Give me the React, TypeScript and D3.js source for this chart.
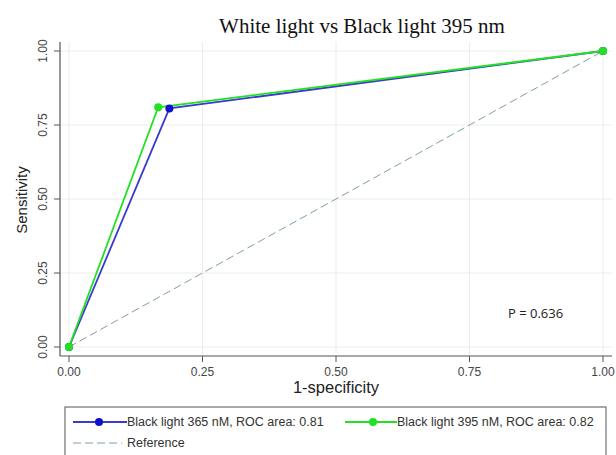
import React from "react";
import * as d3 from "d3";

const xTicks = [0, 0.25, 0.5, 0.75, 1];
const yTicks = [0, 0.25, 0.5, 0.75, 1];
const fpr365 = [0, 0.188, 1];
const tpr365 = [0, 0.806, 1];
const fpr395 = [0, 0.167, 1];
const tpr395 = [0, 0.81, 1];
const refX = [0, 1];
const refY = [0, 1];
const label365 = "Black light 365 nM, ROC area: 0.81";
const label395 = "Black light 395 nM, ROC area: 0.82";
const titleText = "White light vs Black light 395 nm";
const pText = "P = 0.636";

const BLUE = "#1010c8";
const BLUE_LINE = "#3a3ad0";
const GREEN = "#22e022";
const REF = "#7fa0a0";

export default function App() {
  const x = d3.scaleLinear().domain([0, 1]).range([69, 603]);
  const y = d3.scaleLinear().domain([0, 1]).range([347, 51]);
  const line = d3
    .line<[number, number]>()
    .x((d) => x(d[0]))
    .y((d) => y(d[1]));
  const s365 = fpr365.map((v, i) => [v, tpr365[i]] as [number, number]);
  const s395 = fpr395.map((v, i) => [v, tpr395[i]] as [number, number]);
  const sRef = refX.map((v, i) => [v, refY[i]] as [number, number]);
  const sans = "Liberation Sans, Arial, sans-serif";
  return (
    <svg
      width={616}
      height={455}
      style={{ position: "absolute", left: 0, top: 0, background: "#fff" }}
    >
      <rect x={0} y={0} width={616} height={455} fill="#fff" />
      <text
        x={362}
        y={33}
        textAnchor="middle"
        fontFamily="Liberation Serif, Times New Roman, serif"
        fontSize={21}
        fill="#111"
      >
        {titleText}
      </text>
      {/* gridlines */}
      {xTicks.map((t) => (
        <line key={"gx" + t} x1={x(t)} x2={x(t)} y1={42} y2={356} stroke="#ececec" strokeWidth={1} />
      ))}
      {yTicks.map((t) => (
        <line key={"gy" + t} x1={60} x2={612} y1={y(t)} y2={y(t)} stroke="#ececec" strokeWidth={1} />
      ))}
      {/* axes */}
      <line x1={60} x2={60} y1={42} y2={356} stroke="#555" strokeWidth={1.2} />
      <line x1={60} x2={612} y1={356} y2={356} stroke="#555" strokeWidth={1.2} />
      {yTicks.map((t) => (
        <g key={"ty" + t}>
          <line x1={54} x2={60} y1={y(t)} y2={y(t)} stroke="#555" />
          <text
            transform={`translate(47,${y(t)}) rotate(-90)`}
            textAnchor="middle"
            fontFamily={sans}
            fontSize={12}
            fill="#444"
          >
            {t.toFixed(2)}
          </text>
        </g>
      ))}
      {xTicks.map((t) => (
        <g key={"tx" + t}>
          <line x1={x(t)} x2={x(t)} y1={356} y2={362} stroke="#555" />
          <text x={x(t)} y={376} textAnchor="middle" fontFamily={sans} fontSize={12} fill="#444">
            {t.toFixed(2)}
          </text>
        </g>
      ))}
      <text
        transform="translate(27,200) rotate(-90)"
        textAnchor="middle"
        fontFamily={sans}
        fontSize={15}
        fill="#222"
      >
        Sensitivity
      </text>
      <text x={336} y={393} textAnchor="middle" fontFamily={sans} fontSize={16.5} fill="#222">
        1-specificity
      </text>
      {/* reference */}
      <path d={line(sRef) || ""} fill="none" stroke={REF} strokeWidth={1} strokeDasharray="8,4" />
      {/* series */}
      <path d={line(s365) || ""} fill="none" stroke={BLUE_LINE} strokeWidth={1.8} />
      <path d={line(s395) || ""} fill="none" stroke={GREEN} strokeWidth={1.8} />
      {s365.map((d, i) => (
        <circle key={"b" + i} cx={x(d[0])} cy={y(d[1])} r={4} fill={BLUE} />
      ))}
      {s395.map((d, i) => (
        <circle key={"g" + i} cx={x(d[0])} cy={y(d[1])} r={4} fill={GREEN} />
      ))}
      <text x={508} y={318} fontFamily="Open Sans, sans-serif" fontSize={13} fill="#222">
        {pText}
      </text>
      {/* legend */}
      <rect x={65} y={407} width={541} height={60} fill="#fff" stroke="#555" strokeWidth={1} />
      <line x1={73} x2={127} y1={422} y2={422} stroke={BLUE_LINE} strokeWidth={1.8} />
      <circle cx={99} cy={422} r={4} fill={BLUE} />
      <text x={127} y={426} fontFamily={sans} fontSize={12.5} fill="#333">
        {label365}
      </text>
      <line x1={345} x2={397} y1={422} y2={422} stroke={GREEN} strokeWidth={1.8} />
      <circle cx={373} cy={422} r={4} fill={GREEN} />
      <text x={397} y={426} fontFamily={sans} fontSize={12.5} fill="#333">
        {label395}
      </text>
      <line x1={73} x2={122} y1={443} y2={443} stroke={REF} strokeWidth={1} strokeDasharray="8,4" />
      <text x={127} y={447} fontFamily={sans} fontSize={12.5} fill="#333">
        Reference
      </text>
    </svg>
  );
}
